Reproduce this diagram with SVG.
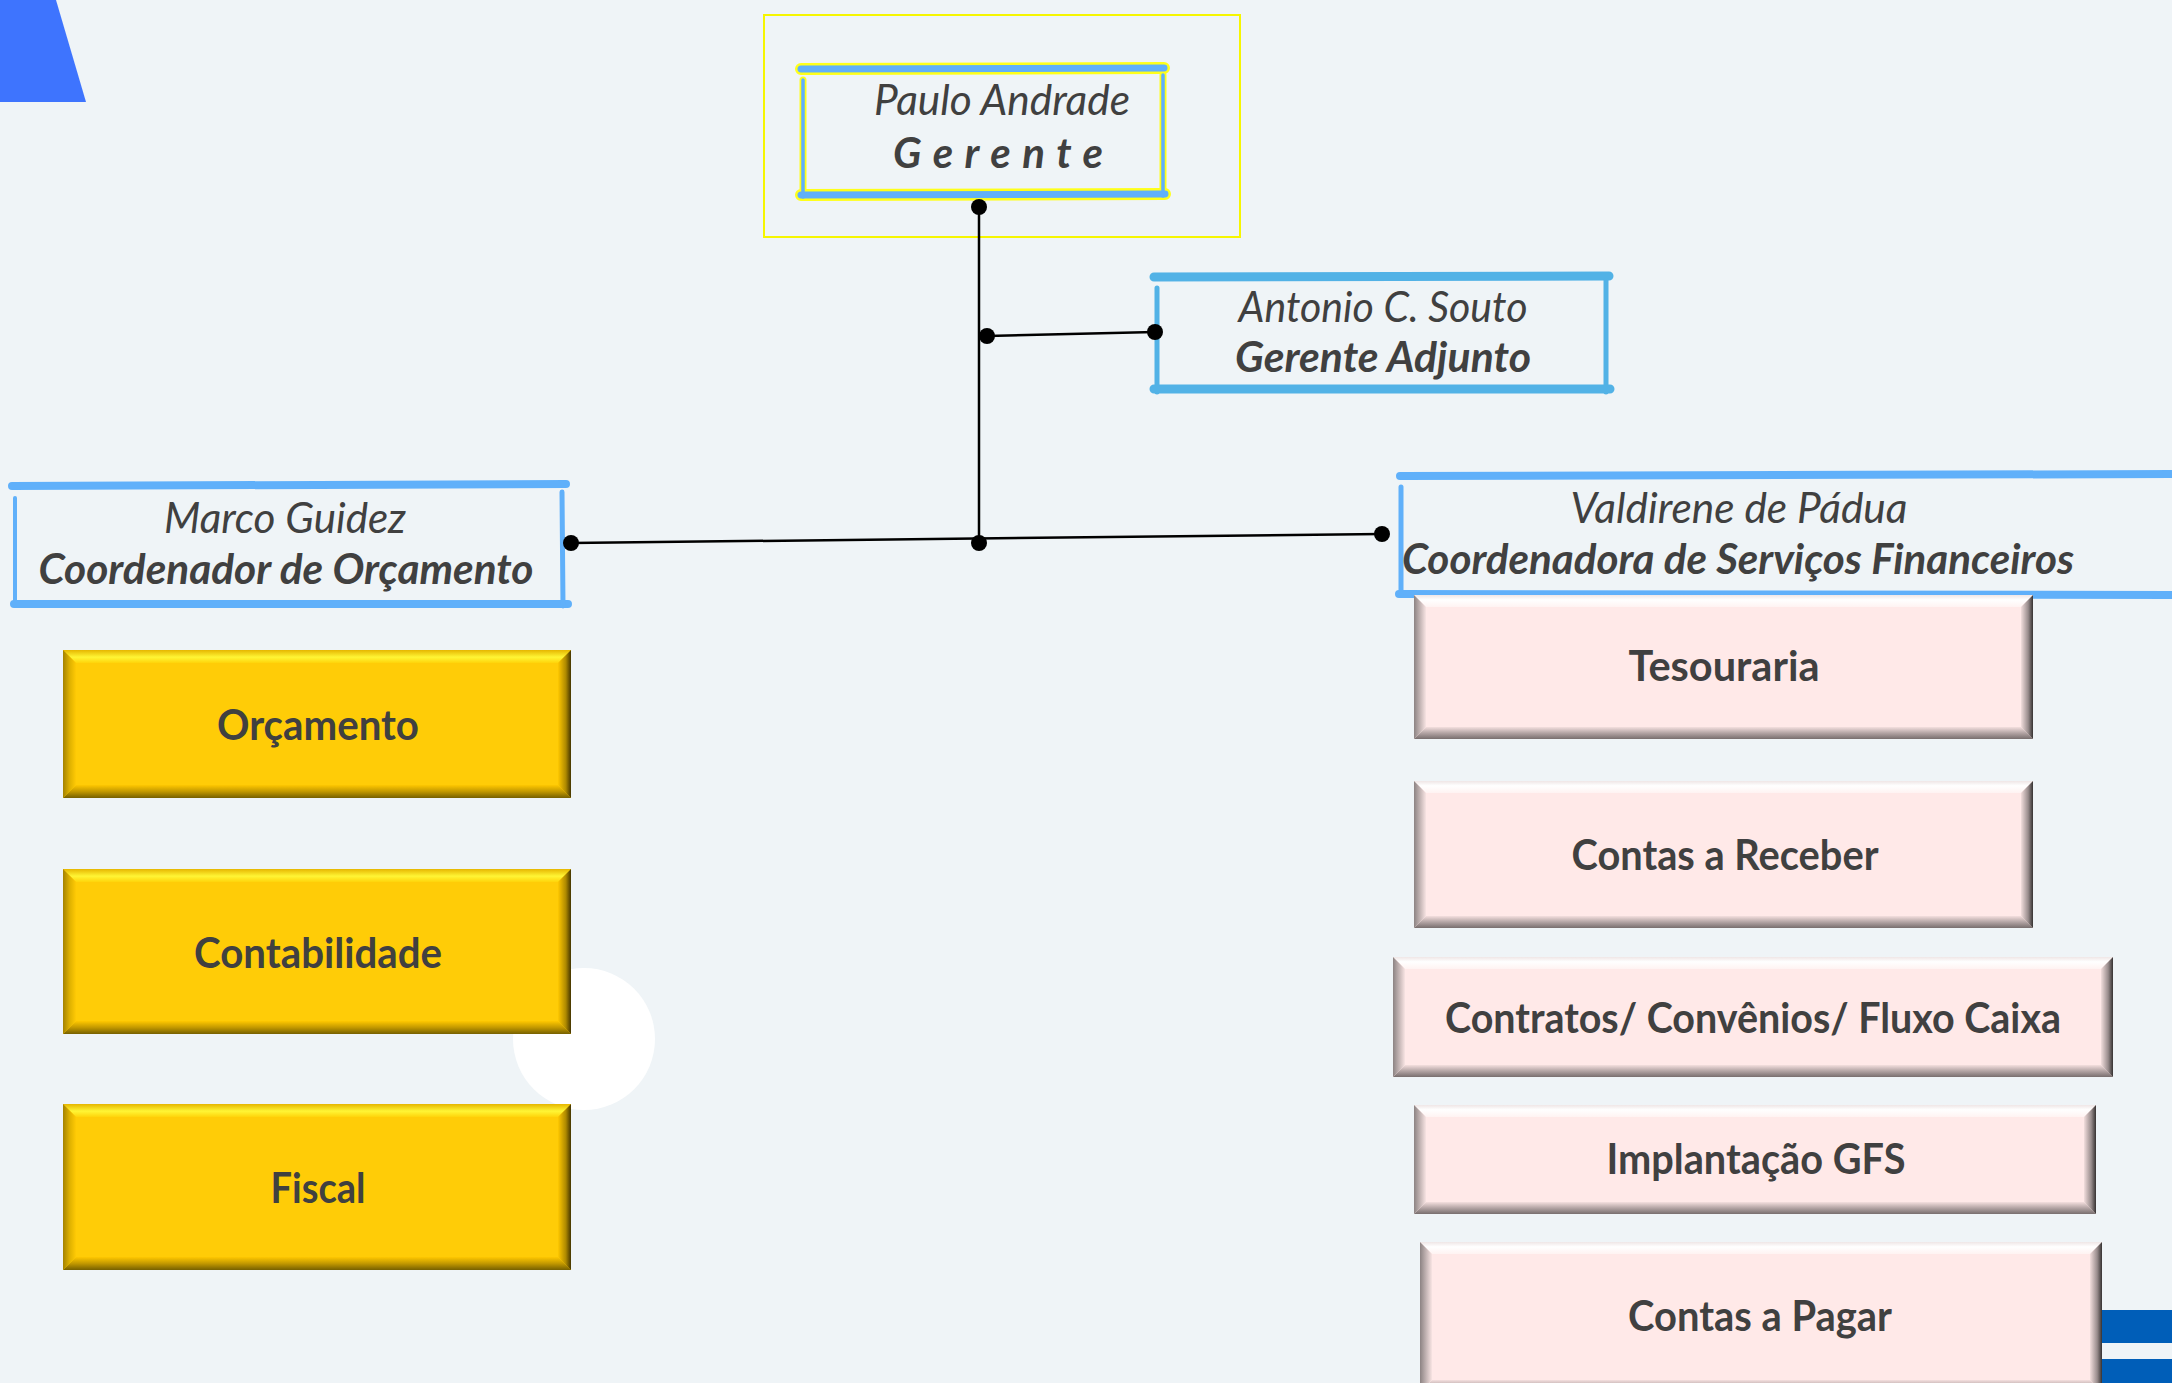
<svg xmlns="http://www.w3.org/2000/svg" width="2172" height="1383" viewBox="0 0 2172 1383">
<defs>
<style>
.t{font-family:Lato,"Open Sans","Liberation Sans",sans-serif;fill:#404040;text-anchor:middle;font-size:42px}
.i{font-style:italic}
.bi{font-style:italic;font-weight:bold}
.b{font-weight:bold}
.sk{fill:none;stroke:#60B0FA;stroke-linecap:round;stroke-linejoin:round}
.ska{fill:none;stroke:#52B2E6;stroke-linecap:round}
.yo{fill:none;stroke:#FFFF1A;stroke-linecap:round}
.con{fill:none;stroke:#000;stroke-width:2.5;marker-start:url(#dot);marker-end:url(#dot)}
.yb{fill:#FFCC07}
.pb{fill:#FFE9E8}
</style>
<marker id="dot" viewBox="-9 -9 18 18" markerWidth="18" markerHeight="18" markerUnits="userSpaceOnUse" refX="0" refY="0">
<circle r="8" fill="#000"/>
</marker>
<linearGradient id="yT" x1="0" y1="0" x2="0" y2="1"><stop offset="0" stop-color="#E6B600"/><stop offset="0.55" stop-color="#FFF535"/><stop offset="1" stop-color="#FFD40A"/></linearGradient>
<linearGradient id="yB" x1="0" y1="0" x2="0" y2="1"><stop offset="0" stop-color="#FFC800"/><stop offset="0.5" stop-color="#C29800"/><stop offset="1" stop-color="#766000"/></linearGradient>
<linearGradient id="yL" x1="0" y1="0" x2="1" y2="0"><stop offset="0" stop-color="#A48200"/><stop offset="0.5" stop-color="#DDB000"/><stop offset="1" stop-color="#FFCA05"/></linearGradient>
<linearGradient id="yR" x1="0" y1="0" x2="1" y2="0"><stop offset="0" stop-color="#FFC800"/><stop offset="0.6" stop-color="#AE8900"/><stop offset="1" stop-color="#443500"/></linearGradient>
<linearGradient id="pT" x1="0" y1="0" x2="0" y2="1"><stop offset="0" stop-color="#EFE6E6"/><stop offset="0.4" stop-color="#FFFFFF"/><stop offset="1" stop-color="#FFF3F2"/></linearGradient>
<linearGradient id="pB" x1="0" y1="0" x2="0" y2="1"><stop offset="0" stop-color="#F4DFDE"/><stop offset="0.5" stop-color="#B3A4A4"/><stop offset="1" stop-color="#786E6E"/></linearGradient>
<linearGradient id="pL" x1="0" y1="0" x2="1" y2="0"><stop offset="0" stop-color="#8C8383"/><stop offset="1" stop-color="#F8E4E3"/></linearGradient>
<linearGradient id="pR" x1="0" y1="0" x2="1" y2="0"><stop offset="0" stop-color="#F2DEDD"/><stop offset="0.6" stop-color="#988C8C"/><stop offset="1" stop-color="#363232"/></linearGradient>
</defs>

<rect width="2172" height="1383" fill="#EFF4F7"/>
<polygon points="0,0 56,0 86,102 0,102" fill="#3E74FE"/>
<circle cx="584" cy="1039" r="71" fill="#FFFFFF"/>
<rect x="2080" y="1310" width="92" height="33" fill="#005EB8"/>
<rect x="2080" y="1359" width="92" height="24" fill="#005EB8"/>
<rect x="764" y="15" width="476" height="222" fill="none" stroke="#F6F600" stroke-width="2"/>

<g id="paulo">
<path class="yo" stroke-width="12" d="M801,69 L1164,68 M801,195 L1165,194"/>
<path class="yo" stroke-width="7" d="M803,80 L803,197 M1163,75 L1163,196"/>
<path class="sk" stroke-width="7" d="M801,69 L1164,68 M801,195 L1165,194"/>
<path class="sk" stroke-width="3.5" d="M803,80 L803,197 M1163,75 L1163,196"/>
<text class="t i" x="1002" y="115" textLength="256" lengthAdjust="spacingAndGlyphs">Paulo Andrade</text>
<text class="t bi" x="998" y="168" textLength="210" lengthAdjust="spacing">Gerente</text>
</g>

<g id="antonio">
<path class="ska" stroke-width="9" d="M1154,277 L1609,276 M1154,389 L1610,389"/>
<path class="ska" stroke-width="5" d="M1157,288 L1157,392 M1606,280 L1606,392"/>
<text class="t i" x="1383" y="322" textLength="289" lengthAdjust="spacingAndGlyphs">Antonio C. Souto</text>
<text class="t bi" x="1383" y="372" textLength="296" lengthAdjust="spacingAndGlyphs">Gerente Adjunto</text>
</g>

<g id="marco">
<path class="sk" stroke-width="8" d="M12,486 L566,484 M14,604 L568,604"/>
<path class="sk" stroke-width="4" d="M15,498 L15,605"/>
<path class="sk" stroke-width="5" d="M562,492 L563,606"/>
<text class="t i" x="285" y="533" textLength="242" lengthAdjust="spacingAndGlyphs">Marco Guidez</text>
<text class="t bi" x="286" y="584" textLength="495" lengthAdjust="spacingAndGlyphs">Coordenador de Orçamento</text>
</g>

<g id="valdirene">
<path class="sk" stroke-width="8" d="M1400,476 L2180,474 M1399,594 L2180,595"/>
<path class="sk" stroke-width="5" d="M1401,487 L1401,593"/>
<text class="t i" x="1739" y="523" textLength="337" lengthAdjust="spacingAndGlyphs">Valdirene de Pádua</text>
<text class="t bi" x="1738" y="574" textLength="672" lengthAdjust="spacingAndGlyphs">Coordenadora de Serviços Financeiros</text>
</g>

<g id="orcamento">
<rect class="yb" x="63" y="650" width="508" height="148"/>
<polygon fill="url(#yT)" points="63,650 571,650 558,663 76,663"/>
<polygon fill="url(#yB)" points="63,798 571,798 558,785 76,785"/>
<polygon fill="url(#yL)" points="63,650 76,663 76,785 63,798"/>
<polygon fill="url(#yR)" points="571,650 558,663 558,785 571,798"/>
<text class="t b" x="318" y="740" textLength="202" lengthAdjust="spacingAndGlyphs">Orçamento</text>
</g>

<g id="contabilidade">
<rect class="yb" x="63" y="869" width="508" height="165"/>
<polygon fill="url(#yT)" points="63,869 571,869 558,882 76,882"/>
<polygon fill="url(#yB)" points="63,1034 571,1034 558,1021 76,1021"/>
<polygon fill="url(#yL)" points="63,869 76,882 76,1021 63,1034"/>
<polygon fill="url(#yR)" points="571,869 558,882 558,1021 571,1034"/>
<text class="t b" x="318" y="968" textLength="248" lengthAdjust="spacingAndGlyphs">Contabilidade</text>
</g>

<g id="fiscal">
<rect class="yb" x="63" y="1104" width="508" height="166"/>
<polygon fill="url(#yT)" points="63,1104 571,1104 558,1117 76,1117"/>
<polygon fill="url(#yB)" points="63,1270 571,1270 558,1257 76,1257"/>
<polygon fill="url(#yL)" points="63,1104 76,1117 76,1257 63,1270"/>
<polygon fill="url(#yR)" points="571,1104 558,1117 558,1257 571,1270"/>
<text class="t b" x="318" y="1203" textLength="95" lengthAdjust="spacingAndGlyphs">Fiscal</text>
</g>

<g id="tesouraria">
<rect class="pb" x="1414" y="595" width="619" height="144"/>
<polygon fill="url(#pT)" points="1414,595 2033,595 2021,607 1426,607"/>
<polygon fill="url(#pB)" points="1414,739 2033,739 2021,727 1426,727"/>
<polygon fill="url(#pL)" points="1414,595 1426,607 1426,727 1414,739"/>
<polygon fill="url(#pR)" points="2033,595 2021,607 2021,727 2033,739"/>
<text class="t b" x="1724" y="681" textLength="191" lengthAdjust="spacingAndGlyphs">Tesouraria</text>
</g>

<g id="receber">
<rect class="pb" x="1414" y="781" width="619" height="147"/>
<polygon fill="url(#pT)" points="1414,781 2033,781 2021,793 1426,793"/>
<polygon fill="url(#pB)" points="1414,928 2033,928 2021,916 1426,916"/>
<polygon fill="url(#pL)" points="1414,781 1426,793 1426,916 1414,928"/>
<polygon fill="url(#pR)" points="2033,781 2021,793 2021,916 2033,928"/>
<text class="t b" x="1725" y="870" textLength="307" lengthAdjust="spacingAndGlyphs">Contas a Receber</text>
</g>

<g id="contratos">
<rect class="pb" x="1393" y="957" width="720" height="120"/>
<polygon fill="url(#pT)" points="1393,957 2113,957 2101,969 1405,969"/>
<polygon fill="url(#pB)" points="1393,1077 2113,1077 2101,1065 1405,1065"/>
<polygon fill="url(#pL)" points="1393,957 1405,969 1405,1065 1393,1077"/>
<polygon fill="url(#pR)" points="2113,957 2101,969 2101,1065 2113,1077"/>
<text class="t b" x="1753" y="1033" textLength="616" lengthAdjust="spacingAndGlyphs">Contratos/ Convênios/ Fluxo Caixa</text>
</g>

<g id="implantacao">
<rect class="pb" x="1414" y="1105" width="682" height="109"/>
<polygon fill="url(#pT)" points="1414,1105 2096,1105 2084,1117 1426,1117"/>
<polygon fill="url(#pB)" points="1414,1214 2096,1214 2084,1202 1426,1202"/>
<polygon fill="url(#pL)" points="1414,1105 1426,1117 1426,1202 1414,1214"/>
<polygon fill="url(#pR)" points="2096,1105 2084,1117 2084,1202 2096,1214"/>
<text class="t b" x="1756" y="1174" textLength="299" lengthAdjust="spacingAndGlyphs">Implantação GFS</text>
</g>

<g id="pagar">
<rect class="pb" x="1420" y="1242" width="682" height="150"/>
<polygon fill="url(#pT)" points="1420,1242 2102,1242 2090,1254 1432,1254"/>
<polygon fill="url(#pB)" points="1420,1392 2102,1392 2090,1380 1432,1380"/>
<polygon fill="url(#pL)" points="1420,1242 1432,1254 1432,1380 1420,1392"/>
<polygon fill="url(#pR)" points="2102,1242 2090,1254 2090,1380 2102,1392"/>
<text class="t b" x="1760" y="1331" textLength="264" lengthAdjust="spacingAndGlyphs">Contas a Pagar</text>
</g>

<g id="connectors">
<path class="con" d="M979,207 L979,543"/>
<path class="con" d="M987,336 L1155,332"/>
<path class="con" d="M571,543 L1382,534"/>
</g>
</svg>
